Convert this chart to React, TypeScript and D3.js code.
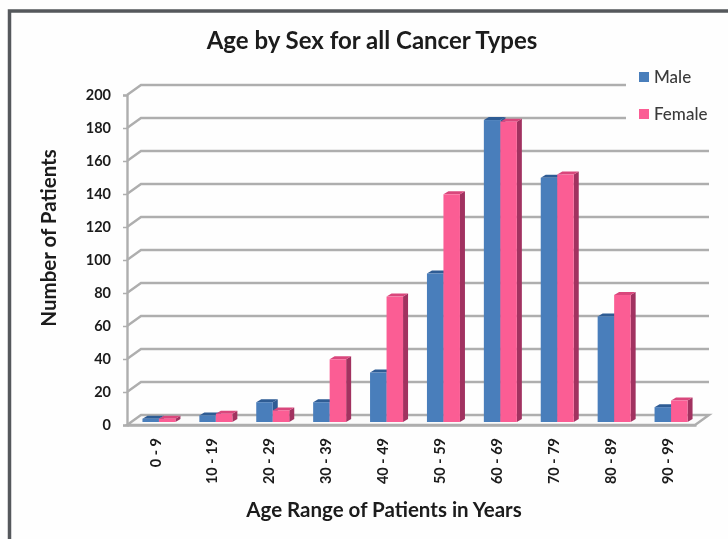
import React, { useRef, useEffect } from "react";
import * as d3 from "d3";

const ageRanges = ["0 - 9", "10 - 19", "20 - 29", "30 - 39", "40 - 49", "50 - 59", "60 - 69", "70 - 79", "80 - 89", "90 - 99"];
const maleValues = [2, 4, 12, 12, 30, 90, 183, 148, 64, 9];
const femaleValues = [2, 5, 7, 38, 76, 138, 182, 150, 77, 13];
const yTicks = [0, 20, 40, 60, 80, 100, 120, 140, 160, 180, 200];
const legendNames = ["Male", "Female"];

const FONT = "Lato, 'Open Sans', sans-serif";

export default function App() {
  const svgRef = useRef<SVGSVGElement>(null);

  useEffect(() => {
    const width = 728;
    const height = 539;
    const margin = { top: 95, right: 32, bottom: 114, left: 127 };
    const wall = { dx: 14, dy: -10 }; // depth of the fake 3d floor
    const bar = { dx: 5, dy: -3, base: 3 };

    const svg = d3.select(svgRef.current).attr("width", width).attr("height", height);
    svg.selectAll("*").remove();

    svg.append("defs").append("filter").attr("id", "soft").append("feGaussianBlur").attr("stdDeviation", 0.7);

    svg.append("rect").attr("width", width).attr("height", height).attr("fill", "#fefefe");

    const root = svg.append("g").attr("filter", "url(#soft)");

    // frame of the pasted picture
    root.append("path")
      .attr("d", `M9.5,${height}V11H${width}`)
      .attr("fill", "none")
      .attr("stroke", "#55585c")
      .attr("stroke-width", 3.5);

    const x = d3.scaleBand<string>()
      .domain(ageRanges)
      .range([margin.left, width - margin.right]);

    const y = d3.scaleLinear()
      .domain([0, 200])
      .range([height - margin.bottom, margin.top]);

    const sex = d3.scaleBand<string>()
      .domain(legendNames)
      .range([0, 33]);

    const grid = "#aeaeae";
    const legendCut = 626;

    // floor
    const floor = d3.path();
    floor.moveTo(x.range()[0], y(0));
    floor.lineTo(x.range()[0] + wall.dx, y(0) + wall.dy);
    floor.lineTo(x.range()[1] + wall.dx - 1, y(0) + wall.dy);
    floor.lineTo(x.range()[1] - 1, y(0));
    floor.closePath();
    root.append("path").attr("d", floor.toString()).attr("fill", "#fbfbfb").attr("stroke", grid).attr("stroke-width", 2.4);

    // gridlines with their slanted ends
    yTicks.filter((t) => t > 0).forEach((t) => {
      const right = t >= 180 ? legendCut : x.range()[1] + wall.dx - 1;
      const p = d3.path();
      p.moveTo(x.range()[0], y(t));
      p.lineTo(x.range()[0] + wall.dx, y(t) + wall.dy);
      p.lineTo(right, y(t) + wall.dy);
      root.append("path").attr("d", p.toString()).attr("fill", "none").attr("stroke", grid).attr("stroke-width", 2.4);
    });

    // left axis
    const yAxis = root.append("g")
      .attr("transform", `translate(${margin.left},0)`)
      .call(d3.axisLeft(y).tickValues(yTicks).tickSize(4).tickPadding(12));
    yAxis.selectAll("line").attr("stroke", grid).attr("stroke-width", 1.5);
    yAxis.select(".domain").attr("stroke", grid).attr("stroke-width", 2.4);
    yAxis.selectAll("text")
      .attr("fill", "#1a1a1a")
      .style("font-family", FONT)
      .style("font-size", "14.5px")
      .style("font-weight", 700);

    // bottom axis
    const xAxis = root.append("g")
      .attr("transform", `translate(0,${y(0)})`)
      .call(d3.axisBottom(x).tickSize(0));
    xAxis.select(".domain").attr("stroke", grid).attr("stroke-width", 2.4);
    xAxis.selectAll("text")
      .attr("transform", "rotate(-90)")
      .attr("text-anchor", "end")
      .attr("x", -13)
      .attr("y", 0)
      .attr("dy", "0.35em")
      .attr("fill", "#1a1a1a")
      .style("font-family", FONT)
      .style("font-size", "14.5px")
      .style("font-weight", 700);

    const drawBars = (name: string, values: number[], front: string, top: string, side: string) => {
      values.forEach((v, i) => {
        const x0 = (x(ageRanges[i]) as number) + x.bandwidth() / 2 - 13 + (sex(name) as number);
        const x1 = x0 + sex.bandwidth();
        const y0 = y(0) - bar.base;
        const y1 = y(v) - bar.base;

        const sideFace = d3.path();
        sideFace.moveTo(x1, y0);
        sideFace.lineTo(x1 + bar.dx, y0 + bar.dy);
        sideFace.lineTo(x1 + bar.dx, y1 + bar.dy);
        sideFace.lineTo(x1, y1);
        sideFace.closePath();
        root.append("path").attr("d", sideFace.toString()).attr("fill", side);

        const topFace = d3.path();
        topFace.moveTo(x0, y1);
        topFace.lineTo(x0 + bar.dx, y1 + bar.dy);
        topFace.lineTo(x1 + bar.dx, y1 + bar.dy);
        topFace.lineTo(x1, y1);
        topFace.closePath();
        root.append("path").attr("d", topFace.toString()).attr("fill", top);

        root.append("rect")
          .attr("x", x0)
          .attr("y", y1)
          .attr("width", x1 - x0)
          .attr("height", y0 - y1)
          .attr("fill", front);
      });
    };

    drawBars("Male", maleValues, "#4a7ebb", "#2f5b94", "#2f5b94");
    drawBars("Female", femaleValues, "#fb5d94", "#d9467c", "#a13160");

    // legend
    const legendColors = ["#4a7ebb", "#fb5d94"];
    legendNames.forEach((name, i) => {
      const ly = 72 + i * 37;
      root.append("rect").attr("x", 639).attr("y", ly).attr("width", 10).attr("height", 10).attr("fill", legendColors[i]);
      root.append("text")
        .attr("x", 654)
        .attr("y", ly + 11)
        .attr("fill", "#3a3a3a")
        .style("font-family", FONT)
        .style("font-size", "17px")
        .style("font-weight", 500)
        .text(name);
    });

    // titles
    root.append("text")
      .attr("x", 372)
      .attr("y", 49)
      .attr("text-anchor", "middle")
      .attr("fill", "#1a1a1a")
      .style("font-family", FONT)
      .style("font-size", "24px")
      .style("font-weight", 700)
      .text("Age by Sex for all Cancer Types");

    root.append("text")
      .attr("x", 384)
      .attr("y", 517)
      .attr("text-anchor", "middle")
      .attr("fill", "#1a1a1a")
      .style("font-family", FONT)
      .style("font-size", "20.5px")
      .style("font-weight", 700)
      .text("Age Range of Patients in Years");

    root.append("text")
      .attr("transform", "translate(56,238) rotate(-90)")
      .attr("text-anchor", "middle")
      .attr("fill", "#1a1a1a")
      .style("font-family", FONT)
      .style("font-size", "20.5px")
      .style("font-weight", 700)
      .text("Number of Patients");
  }, []);

  return <svg ref={svgRef} style={{ position: "absolute", left: 0, top: 0, display: "block" }}></svg>;
}
